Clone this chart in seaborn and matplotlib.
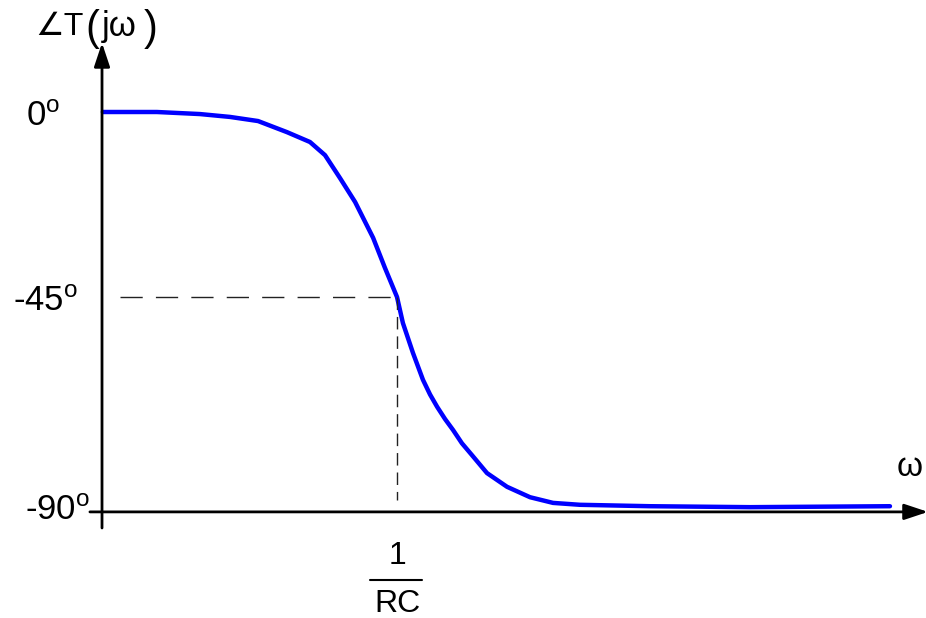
import matplotlib
matplotlib.use('Agg')
import matplotlib.pyplot as plt
import seaborn as sns
import numpy as np

sns.set_style('white')
plt.rcParams['font.family'] = ['Liberation Sans', 'DejaVu Sans']
plt.rcParams['text.color'] = 'black'

# Courbe de phase (omega normalise par 1/RC, phase en degres)
omega = [0.003, 0.186, 0.332, 0.434, 0.529, 0.627, 0.705, 0.756, 0.807, 0.858,
         0.919, 0.959, 1.000, 1.020, 1.054, 1.088, 1.112, 1.136, 1.163, 1.190,
         1.220, 1.254, 1.305, 1.373, 1.451, 1.529, 1.620, 1.858, 2.197, 2.671]
phase = [0.0, 0.0, -0.5, -1.2, -2.2, -4.9, -7.3, -10.5, -16.1, -21.9,
         -30.6, -37.9, -45.0, -50.5, -56.8, -62.5, -65.6, -68.2, -70.8, -73.1,
         -75.9, -78.4, -82.2, -85.1, -87.3, -88.5, -88.9, -89.2, -89.4, -89.2]
tick_deg = [0, -45, -90]
tick_labels = [r'$\mathregular{0^o}$', r'-$\mathregular{45^o}$', r'-$\mathregular{90^o}$']
omega_c = 1.0


# echelle verticale du dessin original (pas tout a fait lineaire)
def fwd(d):
    d = np.asarray(d, float)
    px = np.where(d < -45, 510 - (d + 90) * 213 / 45, 297 - (d + 45) * 185 / 45)
    return -px


def inv(v):
    px = -np.asarray(v, float)
    return np.where(px > 297, -90 - (px - 510) * 45 / 213, -45 - (px - 297) * 45 / 185)


fig = plt.figure(figsize=(9.26, 6.18), dpi=100)
ax = fig.add_axes([0, 0, 1, 1])
ax.set_yscale('function', functions=(fwd, inv))
ax.set_xlim(-0.3458, 2.7932)
ax.set_ylim(float(inv(-618)), float(inv(0)))
ax.axis('off')

sns.lineplot(x=omega, y=phase, color='#0000ff', lw=3.2, estimator=None, ax=ax)

# axes avec fleches
arrow = dict(arrowstyle='-|>,head_length=0.6,head_width=0.2', color='black',
             lw=2, mutation_scale=24, shrinkA=0, shrinkB=0)
ax.annotate('', xy=(0, 16.8), xytext=(0, -93.8), arrowprops=arrow,
            annotation_clip=False)
ax.annotate('', xy=(2.80, -90.4), xytext=(-0.041, -90.4), arrowprops=arrow,
            annotation_clip=False)

# reperes a -45 deg
ax.plot([0.061, 0.986], [-45, -45], color='#222222', lw=1.0, dashes=(16, 9.5))
ax.plot([omega_c, omega_c], [-45, -87.9], color='#222222', lw=1.0, dashes=(9, 5))

# textes
ax.text(-0.142, tick_deg[0] - 1.2, tick_labels[0], fontsize=25, ha='right', va='center')
ax.text(-0.081, tick_deg[1] - 1.0, tick_labels[1], fontsize=25, ha='right', va='center')
ax.text(-0.041, tick_deg[2], tick_labels[2], fontsize=25, ha='right', va='center')
ax.text(-0.227, 20.7, '∠T', fontsize=23, ha='left', va='center')
ax.text(-0.055, 20.3, '(', fontsize=30, ha='left', va='center')
ax.text(-0.002, 20.7, 'jω', fontsize=25, ha='left', va='center')
ax.text(0.142, 20.3, ')', fontsize=30, ha='left', va='center')
ax.text(2.781, -81.1, 'ω', fontsize=24, ha='right', va='center')
ax.text(omega_c, -99.7, '1', fontsize=23, ha='center', va='center')
ax.plot([0.908, 1.085], [-104.8, -104.8], color='black', lw=1.5)
ax.text(omega_c, -109.9, 'RC', fontsize=23, ha='center', va='center')

plt.savefig('out.png', dpi=100)
plt.close()
